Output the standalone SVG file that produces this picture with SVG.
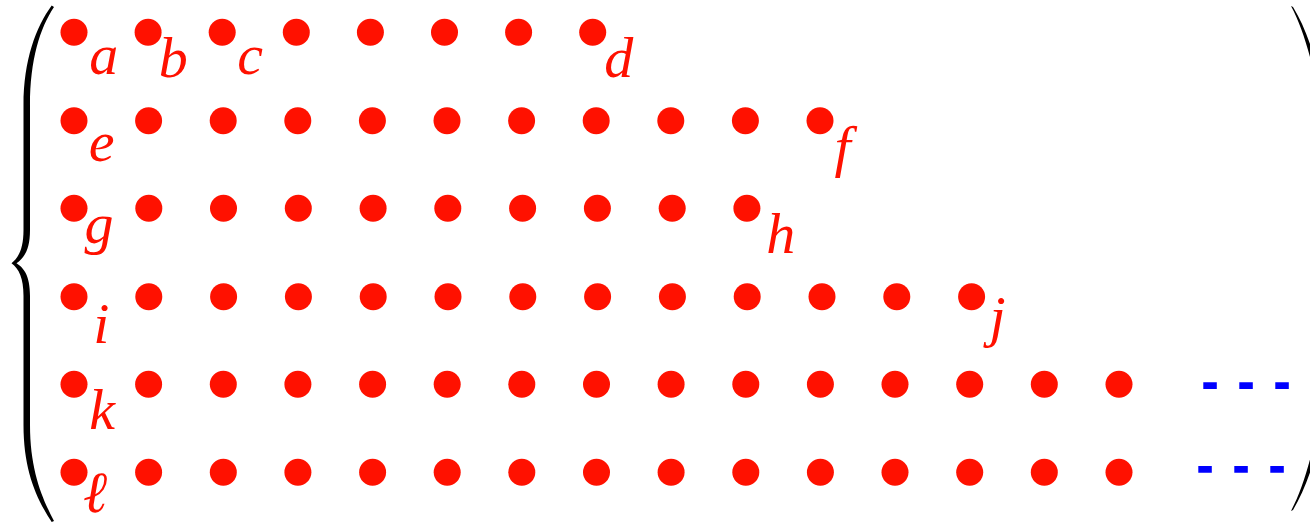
<svg xmlns="http://www.w3.org/2000/svg" width="1310" height="526" viewBox="0 0 1310 526">
<style>
.dot{fill:#ff1100}
.lbl{fill:#ff1100;font-family:"Liberation Serif","DejaVu Serif",serif;font-style:italic;font-size:58px;text-anchor:middle}
.delim{fill:#000}
.cont{stroke:#0000ff;stroke-width:6.7;stroke-dasharray:13.5 22.5;fill:none}
</style>
<rect width="1310" height="526" fill="#fff"/>
<g id="left-brace"><path class="delim" d="M51.7,5.5 C36,27 23.5,60 23.5,105 L23.5,230 C23.5,248 19,257 11.5,263.3 C19,269 23.5,278 23.5,296 L23.5,425 C23.5,470 36,498 51.7,522 L54,521 C42,498 30,470 30,425 L30,296 C30,276 24,268 16.5,263.3 C24,258 30,250 30,230 L30,105 C30,60 40,28 54,7 Z"/></g>
<g id="right-paren"><path class="delim" d="M1291,6 C1320,60 1332,170 1332,258 C1332,350 1320,455 1291,511 L1293,510 C1326,455 1338,350 1338,258 C1338,170 1326,60 1293,7 Z"/></g>
<!-- row 1 -->
<g id="a"><circle class="dot" cx="74" cy="32.3" r="13.5"/><text class="lbl" x="103.8" y="74.3">a</text></g>
<g id="b"><circle class="dot" cx="148.1" cy="32.3" r="13.5"/><text class="lbl" x="173.3" y="76.7">b</text></g>
<g id="c"><circle class="dot" cx="222.2" cy="32.3" r="13.5"/><text class="lbl" x="250.2" y="74.3">c</text></g>
<g id="r1c4"><circle class="dot" cx="296.3" cy="32.3" r="13.5"/></g>
<g id="r1c5"><circle class="dot" cx="370.4" cy="32.3" r="13.5"/></g>
<g id="r1c6"><circle class="dot" cx="444.5" cy="32.3" r="13.5"/></g>
<g id="r1c7"><circle class="dot" cx="518.6" cy="32.3" r="13.5"/></g>
<g id="d"><circle class="dot" cx="592.7" cy="32.3" r="13.5"/><text class="lbl" x="618.8" y="76.7">d</text></g>
<!-- row 2 -->
<g id="e"><circle class="dot" cx="74" cy="120.7" r="13.5"/><text class="lbl" x="101.7" y="161">e</text></g>
<g id="r2c2"><circle class="dot" cx="148.6" cy="120.7" r="13.5"/></g>
<g id="r2c3"><circle class="dot" cx="223.2" cy="120.7" r="13.5"/></g>
<g id="r2c4"><circle class="dot" cx="297.8" cy="120.7" r="13.5"/></g>
<g id="r2c5"><circle class="dot" cx="372.4" cy="120.7" r="13.5"/></g>
<g id="r2c6"><circle class="dot" cx="447" cy="120.7" r="13.5"/></g>
<g id="r2c7"><circle class="dot" cx="521.6" cy="120.7" r="13.5"/></g>
<g id="r2c8"><circle class="dot" cx="596.2" cy="120.7" r="13.5"/></g>
<g id="r2c9"><circle class="dot" cx="670.8" cy="120.7" r="13.5"/></g>
<g id="r2c10"><circle class="dot" cx="745.4" cy="120.7" r="13.5"/></g>
<g id="f"><circle class="dot" cx="820" cy="120.7" r="13.5"/><text class="lbl" x="842.5" y="166">f</text></g>
<!-- row 3 -->
<g id="g"><circle class="dot" cx="74" cy="208.3" r="13.5"/><text class="lbl" x="99" y="242.5">g</text></g>
<g id="r3c2"><circle class="dot" cx="148.8" cy="208.3" r="13.5"/></g>
<g id="r3c3"><circle class="dot" cx="223.5" cy="208.3" r="13.5"/></g>
<g id="r3c4"><circle class="dot" cx="298.3" cy="208.3" r="13.5"/></g>
<g id="r3c5"><circle class="dot" cx="373.1" cy="208.3" r="13.5"/></g>
<g id="r3c6"><circle class="dot" cx="447.8" cy="208.3" r="13.5"/></g>
<g id="r3c7"><circle class="dot" cx="522.6" cy="208.3" r="13.5"/></g>
<g id="r3c8"><circle class="dot" cx="597.4" cy="208.3" r="13.5"/></g>
<g id="r3c9"><circle class="dot" cx="672.2" cy="208.3" r="13.5"/></g>
<g id="h"><circle class="dot" cx="746.9" cy="208.3" r="13.5"/><text class="lbl" x="780.7" y="253.3">h</text></g>
<!-- row 4 -->
<g id="i"><circle class="dot" cx="74" cy="296.7" r="13.5"/><text class="lbl" x="101.3" y="342.7">i</text></g>
<g id="r4c2"><circle class="dot" cx="148.8" cy="296.7" r="13.5"/></g>
<g id="r4c3"><circle class="dot" cx="223.6" cy="296.7" r="13.5"/></g>
<g id="r4c4"><circle class="dot" cx="298.4" cy="296.7" r="13.5"/></g>
<g id="r4c5"><circle class="dot" cx="373.2" cy="296.7" r="13.5"/></g>
<g id="r4c6"><circle class="dot" cx="448" cy="296.7" r="13.5"/></g>
<g id="r4c7"><circle class="dot" cx="522.8" cy="296.7" r="13.5"/></g>
<g id="r4c8"><circle class="dot" cx="597.6" cy="296.7" r="13.5"/></g>
<g id="r4c9"><circle class="dot" cx="672.4" cy="296.7" r="13.5"/></g>
<g id="r4c10"><circle class="dot" cx="747.2" cy="296.7" r="13.5"/></g>
<g id="r4c11"><circle class="dot" cx="822" cy="296.7" r="13.5"/></g>
<g id="r4c12"><circle class="dot" cx="896.8" cy="296.7" r="13.5"/></g>
<g id="j"><circle class="dot" cx="971.6" cy="296.7" r="13.5"/><text class="lbl" x="997.5" y="336">j</text></g>
<!-- row 5 -->
<g id="k"><circle class="dot" cx="74" cy="384.3" r="13.5"/><text class="lbl" x="102" y="429.3">k</text></g>
<g id="r5c2"><circle class="dot" cx="148.6" cy="384.3" r="13.5"/></g>
<g id="r5c3"><circle class="dot" cx="223.3" cy="384.3" r="13.5"/></g>
<g id="r5c4"><circle class="dot" cx="297.9" cy="384.3" r="13.5"/></g>
<g id="r5c5"><circle class="dot" cx="372.6" cy="384.3" r="13.5"/></g>
<g id="r5c6"><circle class="dot" cx="447.2" cy="384.3" r="13.5"/></g>
<g id="r5c7"><circle class="dot" cx="521.8" cy="384.3" r="13.5"/></g>
<g id="r5c8"><circle class="dot" cx="596.5" cy="384.3" r="13.5"/></g>
<g id="r5c9"><circle class="dot" cx="671.1" cy="384.3" r="13.5"/></g>
<g id="r5c10"><circle class="dot" cx="745.8" cy="384.3" r="13.5"/></g>
<g id="r5c11"><circle class="dot" cx="820.4" cy="384.3" r="13.5"/></g>
<g id="r5c12"><circle class="dot" cx="895" cy="384.3" r="13.5"/></g>
<g id="r5c13"><circle class="dot" cx="969.7" cy="384.3" r="13.5"/></g>
<g id="r5c14"><circle class="dot" cx="1044.3" cy="384.3" r="13.5"/></g>
<g id="r5c15"><circle class="dot" cx="1119" cy="384.3" r="13.5"/></g>
<!-- row 6 -->
<g id="l"><circle class="dot" cx="74" cy="472.3" r="13.5"/><text class="lbl" x="95" y="512">ℓ</text></g>
<g id="r6c2"><circle class="dot" cx="148.6" cy="472.3" r="13.5"/></g>
<g id="r6c3"><circle class="dot" cx="223.3" cy="472.3" r="13.5"/></g>
<g id="r6c4"><circle class="dot" cx="297.9" cy="472.3" r="13.5"/></g>
<g id="r6c5"><circle class="dot" cx="372.6" cy="472.3" r="13.5"/></g>
<g id="r6c6"><circle class="dot" cx="447.2" cy="472.3" r="13.5"/></g>
<g id="r6c7"><circle class="dot" cx="521.8" cy="472.3" r="13.5"/></g>
<g id="r6c8"><circle class="dot" cx="596.5" cy="472.3" r="13.5"/></g>
<g id="r6c9"><circle class="dot" cx="671.1" cy="472.3" r="13.5"/></g>
<g id="r6c10"><circle class="dot" cx="745.8" cy="472.3" r="13.5"/></g>
<g id="r6c11"><circle class="dot" cx="820.4" cy="472.3" r="13.5"/></g>
<g id="r6c12"><circle class="dot" cx="895" cy="472.3" r="13.5"/></g>
<g id="r6c13"><circle class="dot" cx="969.7" cy="472.3" r="13.5"/></g>
<g id="r6c14"><circle class="dot" cx="1044.3" cy="472.3" r="13.5"/></g>
<g id="r6c15"><circle class="dot" cx="1119" cy="472.3" r="13.5"/></g>
<g id="continuation">
<path class="cont" d="M1203.3,385.7 H1289.5"/>
<path class="cont" d="M1198.3,469.3 H1284.5"/>
</g>
</svg>
